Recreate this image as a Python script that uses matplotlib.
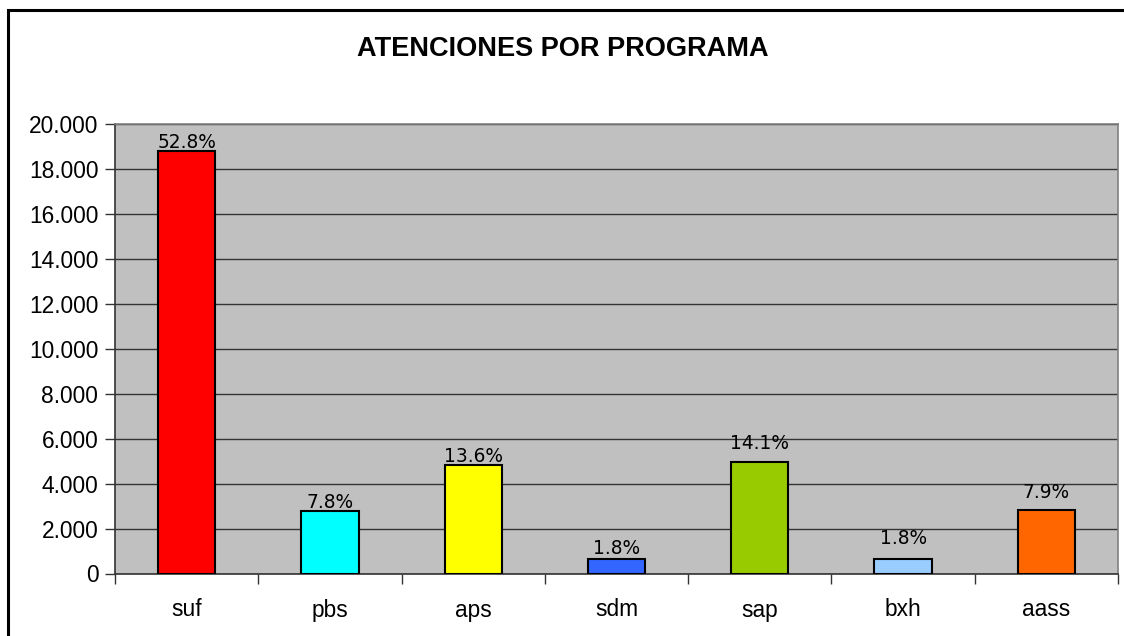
import matplotlib
matplotlib.use("Agg")
import matplotlib.pyplot as plt
from matplotlib.patches import Rectangle
from matplotlib.ticker import FuncFormatter, FixedLocator

# datos
programas = ["suf", "pbs", "aps", "sdm", "sap", "bxh", "aass"]
atenciones = [18780, 2790, 4820, 630, 4970, 630, 2810]
porcentajes = ["52.8%", "7.8%", "13.6%", "1.8%", "14.1%", "1.8%", "7.9%"]
colores = ["#FF0000", "#00FFFF", "#FFFF00", "#3366FF", "#99CC00", "#99CCFF", "#FF6600"]
separacion = [-1, -1, -1, 1, 6, 8, 6]  # separacion de la etiqueta en puntos

W, H = 1124, 636
fig = plt.figure(figsize=(W / 100, H / 100), dpi=100)

# marco exterior del grafico (derecha y abajo quedan fuera de la imagen)
fig.patches.append(Rectangle((7.5 / W, -0.05), 1.2, 1 - 9.5 / H + 0.05,
                             transform=fig.transFigure, fill=False,
                             edgecolor="black", linewidth=2.2))

left, right, top, bottom = 115, 1118, 123.5, 573.5
ax = fig.add_axes([left / W, 1 - bottom / H, (right - left) / W, (bottom - top) / H])
ax.set_facecolor("#C0C0C0")

x = range(len(programas))
barras = ax.bar(x, atenciones, width=0.4, color=colores, edgecolor="black",
                linewidth=1.5, zorder=3)

for b, txt, pad in zip(barras, porcentajes, separacion):
    ax.annotate(txt, (b.get_x() + b.get_width() / 2, b.get_height()),
                xytext=(0, pad), textcoords="offset points",
                ha="center", va="bottom", fontsize=13.4,
                family="DejaVu Sans", color="black", zorder=4)

ax.set_xlim(-0.5, len(programas) - 0.5)
ax.set_ylim(0, 20000)
ax.set_yticks(range(0, 20001, 2000))
ax.yaxis.set_major_formatter(FuncFormatter(lambda v, p: f"{int(v):,}".replace(",", ".")))
ax.grid(axis="y", color="#333333", linewidth=1.0, zorder=1)

ax.set_xticks(list(x))
ax.set_xticklabels(programas)
ax.xaxis.set_minor_locator(FixedLocator([i - 0.5 for i in range(len(programas) + 1)]))
ax.tick_params(axis="x", which="major", length=0, pad=18)
ax.tick_params(axis="x", which="minor", length=7, width=1, color="#333333")
ax.tick_params(axis="y", length=7, width=1, color="#333333", pad=5)

for lbl in ax.get_xticklabels() + ax.get_yticklabels():
    lbl.set_family("Liberation Sans")
    lbl.set_fontsize(16.4)

for s in ["top", "right"]:
    ax.spines[s].set_color("#808080")
    ax.spines[s].set_linewidth(1.2)
for s in ["left", "bottom"]:
    ax.spines[s].set_color("#333333")
    ax.spines[s].set_linewidth(1.2)

fig.text(563 / W, 1 - 49 / H, "ATENCIONES POR PROGRAMA", ha="center", va="center",
         fontsize=19.5, fontweight="bold", family="Liberation Sans")

fig.savefig("out.png", dpi=100)
